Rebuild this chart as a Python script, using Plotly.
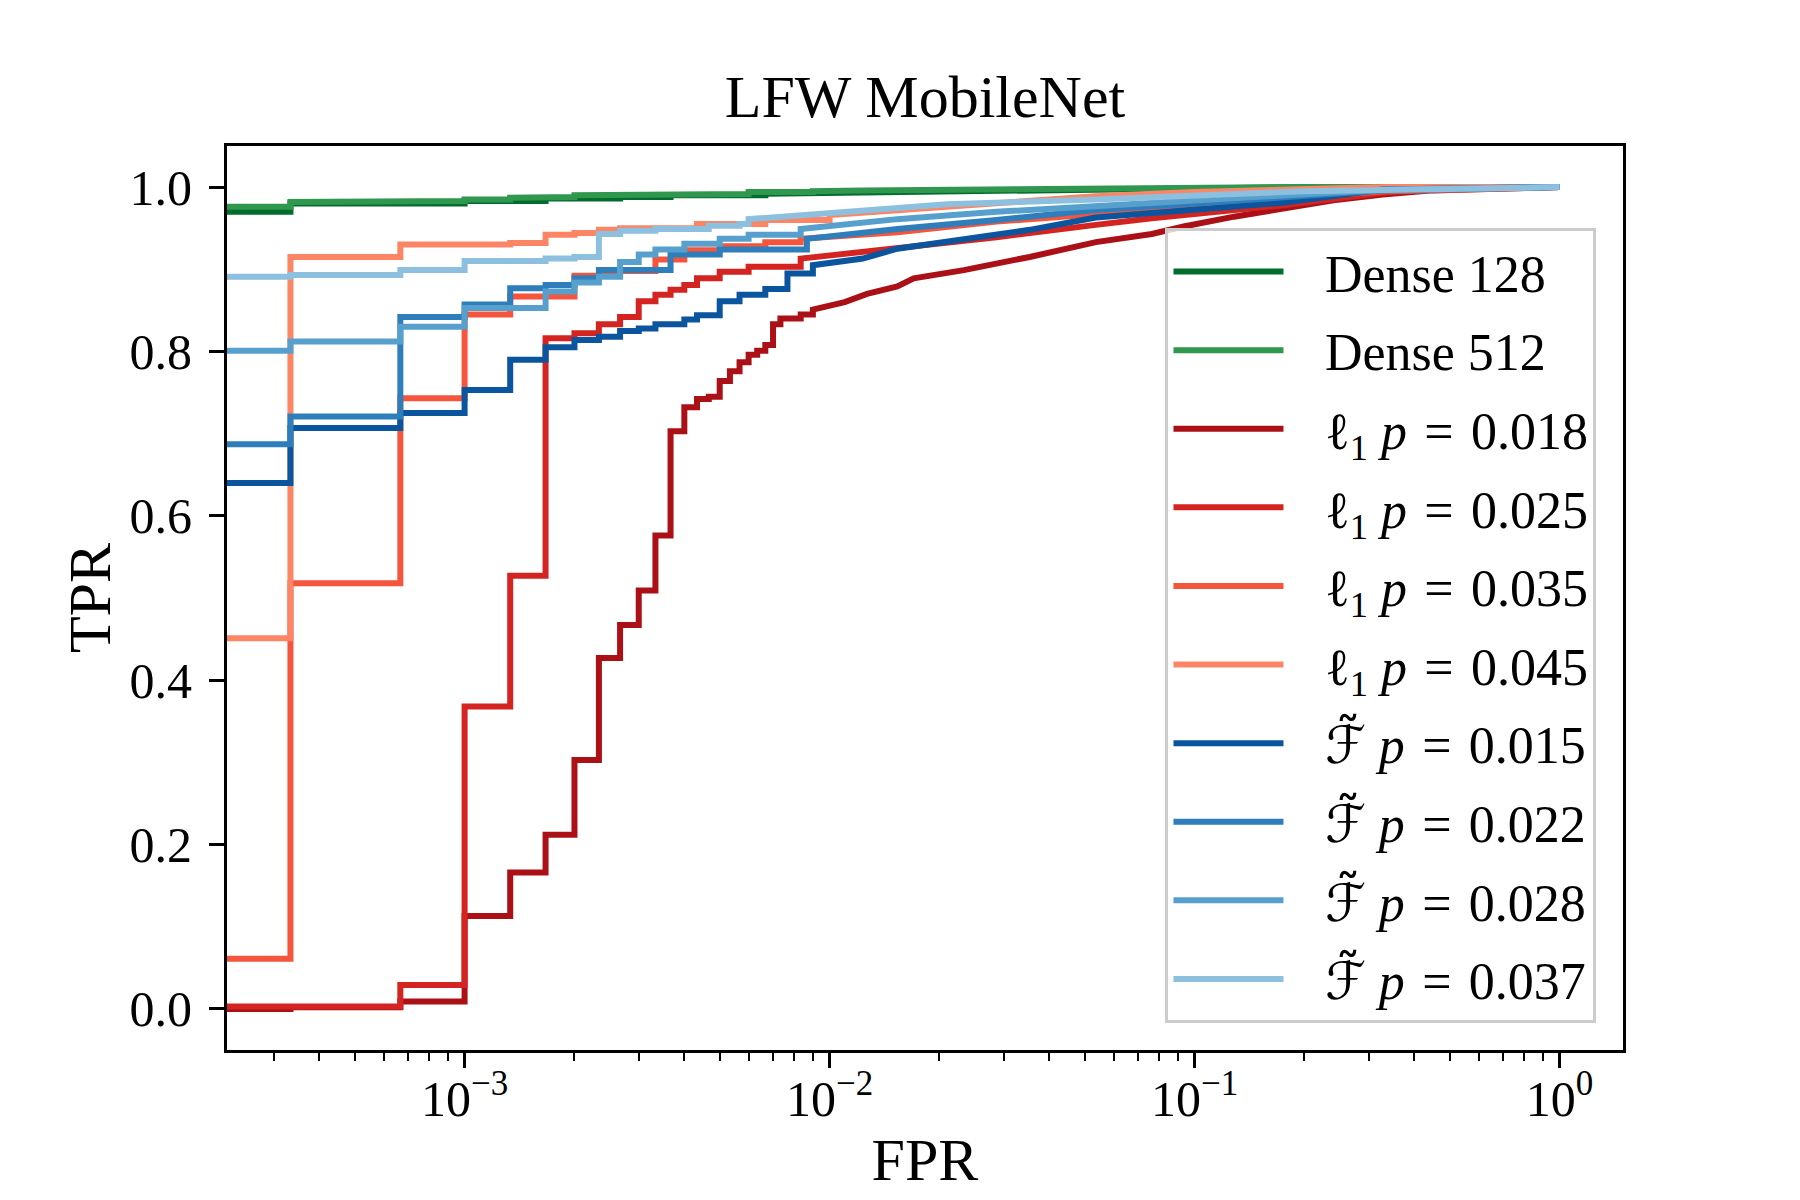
import numpy as np
import plotly.graph_objects as go

# %% ROC 데이터 (FP 개수 / 3000 negative pairs, TPR)
N_NEG = 3000
STEP_MAX = 30  # 이 이하 FP 개수에서는 계단 모양으로 그림

GAP = "\u2002\u2009"  # 범례 선과 글자 사이 간격
EQ = "\u2004=\u2004"
FT = '<span style="font-family:DejaVu Sans">ℱ\u0303</span>'
names = [
    GAP + "Dense 128",
    GAP + "Dense 512",
    GAP + "ℓ<sub>1</sub> <i>p</i>" + EQ + "0.018",
    GAP + "ℓ<sub>1</sub> <i>p</i>" + EQ + "0.025",
    GAP + "ℓ<sub>1</sub> <i>p</i>" + EQ + "0.035",
    GAP + "ℓ<sub>1</sub> <i>p</i>" + EQ + "0.045",
    GAP + FT + " <i>p</i>" + EQ + "0.015",
    GAP + FT + " <i>p</i>" + EQ + "0.022",
    GAP + FT + " <i>p</i>" + EQ + "0.028",
    GAP + FT + " <i>p</i>" + EQ + "0.037",
]
colors = ["#006d2c", "#2f974e",
          "#ab1016", "#d42421", "#f4553c", "#fc8565",
          "#0b559f", "#2e7ebc", "#57a0ce", "#8cc0de"]

d128_fp = [0, 1, 3, 5, 8, 11, 20, 40, 80, 200, 500, 800, 3000]
d128_tpr = [0.970, 0.980, 0.983, 0.986, 0.988, 0.990, 0.992, 0.994, 0.996, 0.998, 0.9995, 1.0, 1.0]

d512_fp = [0, 1, 2, 3, 4, 5, 6, 11, 18, 27, 37, 60, 150, 300, 600, 3000]
d512_tpr = [0.976, 0.982, 0.983, 0.985, 0.987, 0.988, 0.990, 0.9915, 0.994, 0.995, 0.996, 0.997,
            0.998, 0.999, 1.0, 1.0]

l1_018_fp = [0, 1, 2, 3, 4, 5, 6, 7, 8, 9, 10, 11, 12, 13, 14, 15, 16, 17, 18, 19, 20, 21, 22,
             25, 27, 31, 33, 38, 46, 51, 70, 106, 161, 229, 280, 385, 524, 720, 983, 1347, 3000]
l1_018_tpr = [0.000, 0.002, 0.009, 0.113, 0.166, 0.212, 0.303, 0.427, 0.467, 0.509, 0.576, 0.703,
              0.732, 0.742, 0.745, 0.764, 0.776, 0.787, 0.796, 0.801, 0.808, 0.833, 0.840,
              0.845, 0.851, 0.857, 0.860, 0.870, 0.879, 0.889, 0.899, 0.915, 0.933, 0.943, 0.952,
              0.964, 0.973, 0.984, 0.991, 0.996, 1.0]

l1_025_fp = [0, 1, 2, 3, 4, 5, 6, 7, 8, 9, 10, 11, 12, 13, 15, 18, 25, 37, 56, 86, 161, 229, 524,
             983, 1500, 3000]
l1_025_tpr = [0.002, 0.003, 0.029, 0.368, 0.527, 0.816, 0.822, 0.833, 0.842, 0.861, 0.869, 0.875,
              0.881, 0.889, 0.897, 0.903, 0.913, 0.921, 0.931, 0.939, 0.954, 0.962, 0.978,
              0.993, 0.998, 1.0]

l1_035_fp = [0, 1, 2, 3, 4, 6, 8, 10, 12, 15, 20, 25, 46, 86, 161, 300, 600, 1000, 3000]
l1_035_tpr = [0.061, 0.518, 0.743, 0.845, 0.867, 0.892, 0.898, 0.912, 0.923, 0.928, 0.933, 0.937,
              0.945, 0.958, 0.967, 0.976, 0.988, 0.995, 1.0]

l1_045_fp = [0, 1, 2, 4, 5, 6, 7, 8, 13, 20, 30, 40, 56, 86, 161, 300, 600, 1000, 3000]
l1_045_tpr = [0.451, 0.915, 0.930, 0.932, 0.942, 0.944, 0.948, 0.950, 0.955, 0.960, 0.966, 0.970,
              0.975, 0.982, 0.989, 0.994, 0.998, 1.0, 1.0]

ft_015_fp = [0, 1, 2, 3, 4, 5, 6, 7, 8, 9, 10, 12, 13, 15, 17, 20, 23, 27, 37, 46, 70, 106, 161,
             229, 524, 983, 3000]
ft_015_tpr = [0.640, 0.707, 0.725, 0.753, 0.790, 0.805, 0.814, 0.818, 0.825, 0.828, 0.833, 0.839,
              0.844, 0.861, 0.869, 0.876, 0.895, 0.905, 0.913, 0.925, 0.937, 0.948, 0.963,
              0.968, 0.981, 0.997, 1.0]

ft_022_fp = [0, 1, 2, 3, 4, 5, 6, 7, 11, 15, 26, 46, 86, 161, 300, 600, 1000, 3000]
ft_022_tpr = [0.687, 0.721, 0.842, 0.857, 0.877, 0.881, 0.889, 0.899, 0.918, 0.924, 0.937, 0.949,
              0.960, 0.972, 0.980, 0.990, 0.996, 1.0]

ft_028_fp = [0, 1, 2, 3, 5, 6, 7, 8, 9, 10, 12, 15, 18, 25, 46, 86, 161, 300, 600, 1000, 3000]
ft_028_tpr = [0.801, 0.812, 0.830, 0.853, 0.873, 0.884, 0.891, 0.909, 0.918, 0.924, 0.931, 0.937,
              0.942, 0.949, 0.961, 0.970, 0.977, 0.983, 0.992, 0.997, 1.0]

ft_037_fp = [0, 1, 2, 3, 5, 6, 7, 8, 10, 14, 17, 18, 33, 63, 161, 300, 600, 3000]
ft_037_tpr = [0.891, 0.893, 0.899, 0.910, 0.913, 0.915, 0.943, 0.947, 0.949, 0.953, 0.955, 0.961,
              0.970, 0.979, 0.985, 0.990, 0.995, 1.0]

xtick_vals = [1e-3, 1e-2, 1e-1, 1e0]
xtick_text = ["10<sup>−3</sup>", "10<sup>−2</sup>", "10<sup>−1</sup>", "10<sup>0</sup>"]
ytick_vals = [0.0, 0.2, 0.4, 0.6, 0.8, 1.0]

series = [
    (d128_fp, d128_tpr), (d512_fp, d512_tpr),
    (l1_018_fp, l1_018_tpr), (l1_025_fp, l1_025_tpr), (l1_035_fp, l1_035_tpr), (l1_045_fp, l1_045_tpr),
    (ft_015_fp, ft_015_tpr), (ft_022_fp, ft_022_tpr), (ft_028_fp, ft_028_tpr), (ft_037_fp, ft_037_tpr),
]


# %% roc_curve 꼭짓점처럼 만들기
def roc_path(fp, tpr):
    xs, ys = [], []
    for i, (k, t) in enumerate(zip(fp, tpr)):
        if i > 0 and k <= STEP_MAX:
            xs.append(k)
            ys.append(tpr[i - 1])
        xs.append(k)
        ys.append(t)
    fpr = np.array(xs, dtype=float) / N_NEG
    fpr[fpr == 0] = 1e-6  # log 축에서 FPR=0 은 왼쪽 밖으로
    return fpr, ys


FONT = "Liberation Serif"

fig = go.Figure()
for (fp, tpr), name, col in zip(series, names, colors):
    x, y = roc_path(fp, tpr)
    fig.add_trace(go.Scatter(x=x, y=y, mode="lines", name=name, legendgroup=name,
                             line=dict(color=col, width=6)))

# 축 범위: matplotlib 기본 5% 여백
x_lo, x_hi = np.log10(1 / N_NEG), 0.0
pad = 0.05 * (x_hi - x_lo)

fig.update_layout(
    width=1800, height=1200,
    margin=dict(l=219, r=185, t=138, b=158),
    paper_bgcolor="white", plot_bgcolor="white",
    font=dict(family=FONT, size=50, color="black"),
    title=dict(text="LFW MobileNet", x=0.5, xref="paper", y=0.9267, yref="container",
               yanchor="middle", font=dict(size=60)),
    showlegend=True,
    legend=dict(x=0.981, y=0.909, xanchor="right", yanchor="top",
                bgcolor="rgba(255,255,255,0.8)", bordercolor="#cccccc", borderwidth=3,
                font=dict(size=52), tracegroupgap=8, itemwidth=110),
)
fig.update_xaxes(
    type="log", range=[x_lo - pad, x_hi + pad],
    tickvals=xtick_vals, ticktext=xtick_text,
    ticks="outside", ticklen=15, tickwidth=3, tickcolor="black", ticklabelstandoff=-12,
    minor=dict(ticks="outside", ticklen=8, tickwidth=2, tickcolor="black", dtick="D1"),
    showline=True, linecolor="black", linewidth=3, mirror=True,
    showgrid=False, zeroline=False,
    title=dict(text="FPR", standoff=6),
)
fig.update_yaxes(
    range=[-0.05, 1.05], tickvals=ytick_vals, tickformat=".1f",
    ticks="outside", ticklen=15, tickwidth=3, tickcolor="black", ticklabelstandoff=7,
    showline=True, linecolor="black", linewidth=3, mirror=True,
    showgrid=False, zeroline=False,
    title=dict(text="TPR", standoff=0),
)

fig.write_html("out.html")
